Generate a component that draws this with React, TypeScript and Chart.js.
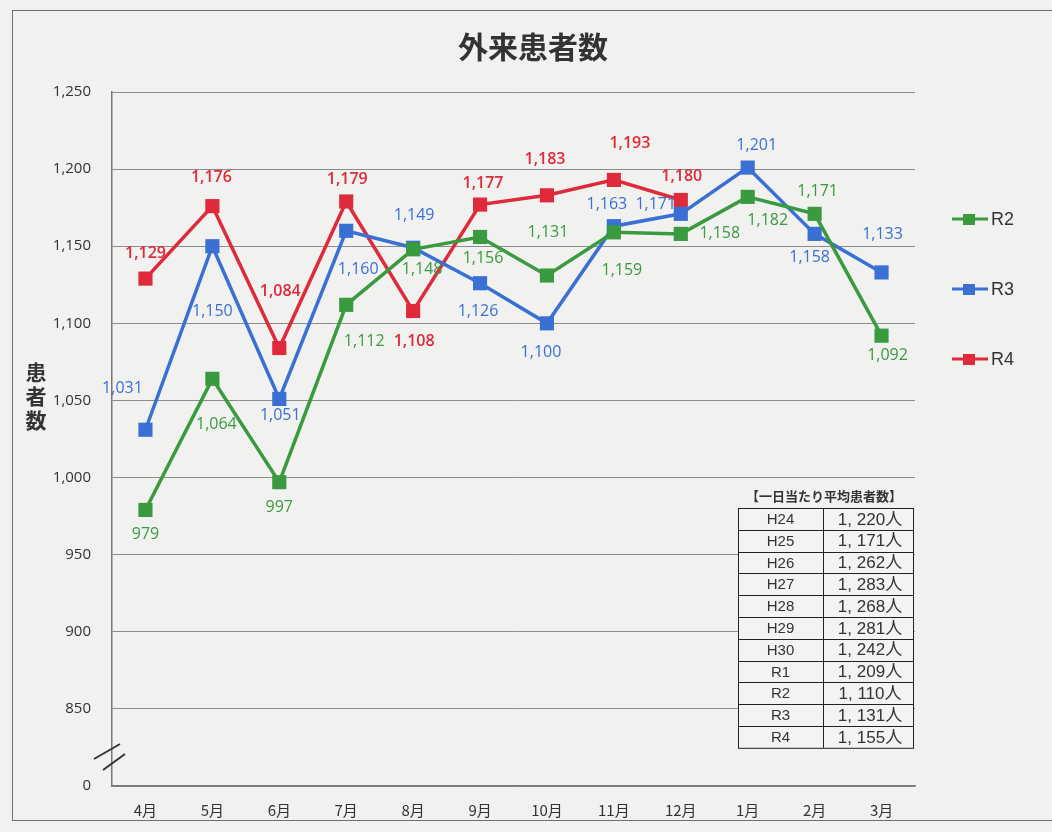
import React, { useEffect, useRef } from "react";
import { Chart, registerables } from "chart.js";

Chart.register(...registerables);

const months = ["4月", "5月", "6月", "7月", "8月", "9月", "10月", "11月", "12月", "1月", "2月", "3月"];
const r2Values = [979, 1064, 997, 1112, 1148, 1156, 1131, 1159, 1158, 1182, 1171, 1092];
const r3Values = [1031, 1150, 1051, 1160, 1149, 1126, 1100, 1163, 1171, 1201, 1158, 1133];
const r4Values = [1129, 1176, 1084, 1179, 1108, 1177, 1183, 1193, 1180, null, null, null];
const yTicks = [800, 850, 900, 950, 1000, 1050, 1100, 1150, 1200, 1250];
const tableYears = ["H24", "H25", "H26", "H27", "H28", "H29", "H30", "R1", "R2", "R3", "R4"];
const tableAverages = ["1, 220人", "1, 171人", "1, 262人", "1, 283人", "1, 268人", "1, 281人", "1, 242人", "1, 209人", "1, 110人", "1, 131人", "1, 155人"];
const tableTitle = "【一日当たり平均患者数】";
const chartTitle = "外来患者数";
const yTitle = "患者数";

// label offsets (styling only)
const r2Offsets = [[0, 24], [4, 46], [0, 25], [18, 37], [9, 20], [3, 21], [1, -43], [8, 38], [39, 0], [20, 24], [3, -22], [6, 20]];
const r3Offsets = [[-23, -41], [0, 65], [1, 17], [12, 39], [1, -32], [-2, 28], [-6, 29], [-7, -22], [-25, -9], [9, -22], [-5, 24], [1, -38]];
const r4Offsets = [[0, -25], [-1, -29], [1, -57], [1, -22], [1, 30], [3, -21], [-2, -36], [16, -36], [1, -24], [0, 0], [0, 0], [0, 0]];

const GREEN = "#3a9a3f";
const BLUE = "#3a6fd3";
const RED = "#df2a3c";

const fmt = (v: number) => v.toLocaleString("en-US");

export default function App() {
  const ref = useRef<HTMLCanvasElement>(null);
  useEffect(() => {
    document.body.style.margin = "0";
    const offsets = [r2Offsets, r3Offsets, r4Offsets];
    const labelPlugin = {
      id: "labels",
      afterDatasetsDraw(chart: any) {
        const ctx = chart.ctx;
        ctx.save();
        ctx.textAlign = "center";
        ctx.textBaseline = "middle";
        chart.data.datasets.forEach((ds: any, di: number) => {
          const meta = chart.getDatasetMeta(di);
          ctx.fillStyle = ds.borderColor;
          ctx.font = (di === 2 ? "600 " : "") + "16px 'Open Sans', sans-serif";
          meta.data.forEach((pt: any, i: number) => {
            const v = ds.data[i];
            if (v == null) return;
            const [dx, dy] = offsets[di][i];
            ctx.fillText(fmt(v), pt.x + dx, pt.y + dy);
          });
        });
        ctx.restore();
      },
    };
    const decoPlugin = {
      id: "deco",
      afterDraw(chart: any) {
        const ctx = chart.ctx;
        ctx.save();
        // title
        ctx.fillStyle = "#333";
        ctx.textAlign = "center";
        ctx.textBaseline = "middle";
        ctx.font = "bold 30px 'Noto Sans CJK JP', sans-serif";
        ctx.fillText(chartTitle, 533, 47);
        // y title stacked
        ctx.font = "bold 21px 'Noto Sans CJK JP', sans-serif";
        Array.from(yTitle).forEach((c, i) => ctx.fillText(c, 36, 372 + i * 24));
        // axis break
        ctx.strokeStyle = "#333";
        ctx.lineWidth = 2;
        ctx.beginPath();
        ctx.moveTo(94, 759);
        ctx.lineTo(120, 744);
        ctx.moveTo(103, 770);
        ctx.lineTo(125, 754);
        ctx.stroke();
        // legend
        chart.data.datasets.forEach((ds: any, i: number) => {
          const y = 219 + i * 70;
          ctx.strokeStyle = ds.borderColor;
          ctx.lineWidth = 3;
          ctx.beginPath();
          ctx.moveTo(952, y);
          ctx.lineTo(988, y);
          ctx.stroke();
          ctx.fillStyle = ds.borderColor;
          ctx.fillRect(963, y - 5, 12, 11);
          ctx.fillStyle = "#333";
          ctx.textAlign = "left";
          ctx.font = "18px 'Liberation Sans', sans-serif";
          ctx.fillText(ds.label, 991, y + 1);
        });
        // table
        const tx = 738, tw = 175, cx = 823, ty = 508, rh = 21.8;
        ctx.fillStyle = "#333";
        ctx.textAlign = "center";
        ctx.font = "bold 13px 'Noto Sans CJK JP', sans-serif";
        ctx.fillText(tableTitle, 824, 496);
        ctx.fillStyle = "#f3f3f1";
        ctx.fillRect(tx, ty, tw, rh * tableYears.length);
        ctx.strokeStyle = "#222";
        ctx.lineWidth = 1;
        ctx.strokeRect(tx + 0.5, ty + 0.5, tw, rh * tableYears.length);
        ctx.beginPath();
        ctx.moveTo(cx + 0.5, ty);
        ctx.lineTo(cx + 0.5, ty + rh * tableYears.length);
        for (let i = 1; i < tableYears.length; i++) {
          const yy = Math.round(ty + rh * i) + 0.5;
          ctx.moveTo(tx, yy);
          ctx.lineTo(tx + tw, yy);
        }
        ctx.stroke();
        ctx.fillStyle = "#333";
        tableYears.forEach((y, i) => {
          const yy = ty + rh * i + rh / 2 + 1;
          ctx.textAlign = "center";
          ctx.font = "15px 'Liberation Sans', sans-serif";
          ctx.fillText(y, (tx + cx) / 2, yy);
          ctx.font = "17px 'Liberation Sans', 'Noto Sans CJK JP', sans-serif";
          ctx.fillText(tableAverages[i], (cx + tx + tw) / 2 + 2, yy);
        });
        ctx.restore();
      },
    };
    const mk = (label: string, data: any[], color: string) => ({
      label,
      data,
      borderColor: color,
      backgroundColor: color,
      borderWidth: 3.5,
      pointStyle: "rect",
      pointRadius: 10,
      pointHoverRadius: 10,
      pointBorderWidth: 0,
      tension: 0,
      spanGaps: false,
    });
    const chart = new Chart(ref.current!, {
      type: "line",
      data: {
        labels: months,
        datasets: [mk("R2", r2Values, GREEN), mk("R3", r3Values, BLUE), mk("R4", r4Values, RED)],
      },
      plugins: [labelPlugin, decoPlugin],
      options: {
        animation: false,
        responsive: false,
        layout: { padding: { top: 92, right: 137, left: 0, bottom: 0 } },
        plugins: { legend: { display: false }, tooltip: { enabled: false }, title: { display: false } },
        scales: {
          x: {
            offset: true,
            grid: { display: false },
            border: { display: true, color: "#777", width: 1.5 },
            ticks: { color: "#333", font: { size: 15, family: "'Noto Sans CJK JP', sans-serif" }, padding: 7 },
            afterFit: (s: any) => { s.height = 46; },
          },
          y: {
            min: 800,
            max: 1250,
            afterBuildTicks: (s: any) => { s.ticks = yTicks.map((v) => ({ value: v })); },
            grid: { color: "#8c8c8c", lineWidth: 1, drawTicks: false },
            border: { display: true, color: "#777", width: 1.5 },
            ticks: {
              color: "#333",
              padding: 21,
              font: { size: 15, family: "'Open Sans', sans-serif" },
              callback: (v: any) => (v === 800 ? "0" : fmt(Number(v))),
            },
            afterFit: (s: any) => { s.width = 112; },
          },
        },
      } as any,
    });
    return () => chart.destroy();
  }, []);
  return (
    <div style={{ position: "relative", width: 1052, height: 832, background: "#f1f1ef", overflow: "hidden" }}>
      <div style={{ position: "absolute", left: 12, top: 10, width: 1100, height: 809, border: "1.5px solid #6f6f6f" }} />
      <canvas ref={ref} width={1052} height={832} style={{ position: "absolute", left: 0, top: 0 }} />
    </div>
  );
}
